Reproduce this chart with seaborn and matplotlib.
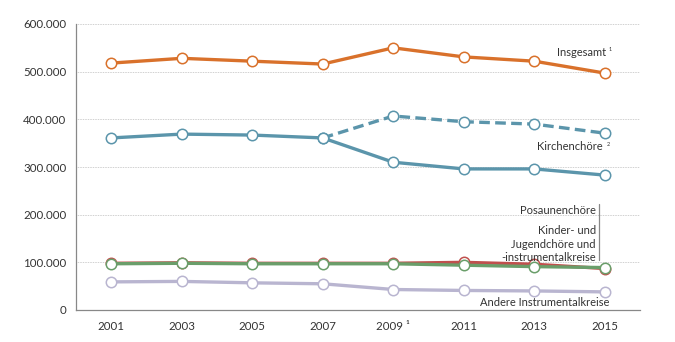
import matplotlib
matplotlib.use("Agg")
import matplotlib.pyplot as plt
import seaborn as sns
import pandas as pd
from matplotlib.ticker import FixedLocator

years = [2001, 2003, 2005, 2007, 2009, 2011, 2013, 2015]
year_labels = ["2001", "2003", "2005", "2007", "2009 ¹", "2011", "2013", "2015"]
insgesamt = [518000, 528000, 522000, 516000, 550000, 531000, 522000, 497000]
kirchenchoere = [361000, 369000, 367000, 361000, 310000, 296000, 296000, 283000]
kirchen_alt_years = [2007, 2009, 2011, 2013, 2015]
kirchenchoere_alt = [361000, 407000, 395000, 390000, 371000]
posaunenchoere = [98000, 99000, 98000, 98000, 98000, 100000, 96000, 87000]
kinder_jugend = [97000, 98000, 97000, 97000, 97000, 94000, 91000, 89000]
andere = [59000, 60000, 57000, 55000, 43000, 41000, 40000, 38000]
yticks = [0, 100000, 200000, 300000, 400000, 500000, 600000]
ytick_labels = ["0", "100.000", "200.000", "300.000", "400.000", "500.000", "600.000"]

sns.set_style("white")
plt.rcParams["font.family"] = ["Lato", "DejaVu Sans"]

fig = plt.figure(figsize=(6.75, 3.42), dpi=100)
ax = fig.add_axes([76/675, 1-310/342, (640-76)/675, (310-24)/342])

series = [
    ("Andere", years, andere, "#b9b5d0", "-"),
    ("Posaunen", years, posaunenchoere, "#c0504d", "-"),
    ("Kinder", years, kinder_jugend, "#6a9e6a", "-"),
    ("Kirchen", years, kirchenchoere, "#5b95ab", "-"),
    ("KirchenAlt", kirchen_alt_years, kirchenchoere_alt, "#5b95ab", (0, (3.2, 1.6))),
    ("Insgesamt", years, insgesamt, "#d9712b", "-"),
]
for name, xs, ys, col, ls in series:
    df = pd.DataFrame({"Jahr": xs, "Wert": ys})
    sns.lineplot(data=df, x="Jahr", y="Wert", ax=ax, color=col, linewidth=2.4,
                 linestyle=ls, marker="o", markersize=7.5, markerfacecolor="white",
                 markeredgecolor=col, markeredgewidth=1.1, zorder=3)

ax.set_xlim(2000, 2016)
ax.set_ylim(0, 600000)
ax.set_xlabel("")
ax.set_ylabel("")
ax.set_xticks(years)
ax.set_xticklabels(year_labels)
ax.xaxis.set_minor_locator(FixedLocator([2000, 2002, 2004, 2006, 2008, 2010, 2012, 2014, 2016]))
ax.tick_params(axis="x", which="major", length=0, pad=8, labelsize=8.3, labelcolor="#333333")
ax.tick_params(axis="x", which="minor", length=3, color="#888888", direction="out")
ax.set_yticks(yticks)
ax.set_yticklabels(ytick_labels)
ax.tick_params(axis="y", length=4, color="#888888", labelsize=8.3, labelcolor="#333333", pad=3)

for v in yticks[1:]:
    ax.axhline(v, color="#b0b0b0", linestyle=(0, (0.8, 1.2)), linewidth=0.6, zorder=1)

for s in ["top", "right"]:
    ax.spines[s].set_visible(False)
for s in ["left", "bottom"]:
    ax.spines[s].set_color("#888888")
    ax.spines[s].set_linewidth(0.9)

fs = 8
tc = "#333333"
ax.text(2015.05, 540000, "Insgesamt", ha="right", va="center", fontsize=fs, color=tc)
ax.text(2015.12, 546000, "1", ha="left", va="center", fontsize=4, color=tc)
ax.text(2014.95, 342000, "Kirchenchöre", ha="right", va="center", fontsize=fs, color=tc)
ax.text(2015.05, 348000, "2", ha="left", va="center", fontsize=4, color=tc)
ax.text(2014.75, 209000, "Posaunenchöre", ha="right", va="center", fontsize=fs, color=tc)
ax.text(2014.75, 138000, "Kinder- und\nJugendchöre und\n-instrumentalkreise", ha="right",
        va="center", fontsize=fs, color=tc, linespacing=1.3)
ax.plot([2014.85, 2014.85], [105000, 222000], color="#888888", linewidth=0.9, zorder=2)
ax.text(2013.3, 16000, "Andere Instrumentalkreise", ha="center", va="center", fontsize=fs, color=tc)

fig.savefig("out.png", dpi=100)
